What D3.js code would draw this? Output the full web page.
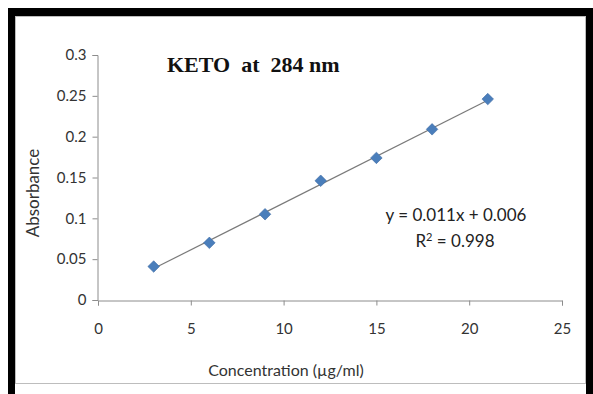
<!doctype html>
<html lang="en">
<head>
<meta charset="utf-8">
<title>KETO at 284 nm</title>
<script src="https://cdn.jsdelivr.net/npm/d3@7"></script>
<style>
    body { margin: 0; background: #fff; }
    svg { display: block; }
</style>
</head>
<body>
<svg width="593" height="394" id="chart"></svg>
<script>
    // calibration data
    const concentration = [3, 6, 9, 12, 15, 18, 21];
    const absorbance = [0.041, 0.070, 0.105, 0.146, 0.174, 0.209, 0.246];
    const xTicks = [0, 5, 10, 15, 20, 25];
    const yTicks = [0, 0.05, 0.1, 0.15, 0.2, 0.25, 0.3];
    const equationText = "y = 0.011x + 0.006";
    const r2Text = "0.998";

    const svg = d3.select("#chart");

    // black frame on top/left/right, white card inside
    svg.append("rect").attr("x", 8).attr("y", 8).attr("width", 585).attr("height", 386).attr("fill", "#000");
    svg.append("rect").attr("x", 15).attr("y", 16).attr("width", 571).attr("height", 378).attr("fill", "#fff");
    svg.append("rect").attr("x", 15.5).attr("y", 16.5).attr("width", 570).attr("height", 367)
        .attr("fill", "none").attr("stroke", "#bdbdbd").attr("stroke-width", 1);

    const x = d3.scaleLinear().domain([0, 25]).range([98, 562]);
    const y = d3.scaleLinear().domain([0, 0.3]).range([300, 55]);

    const tickFont = "Lato, 'Open Sans', sans-serif";

    const xAxis = svg.append("g")
        .attr("transform", "translate(0,300.5)")
        .call(d3.axisBottom(x).tickValues(xTicks).tickSize(5).tickPadding(18).tickFormat(d3.format("d")));
    const yAxis = svg.append("g")
        .attr("transform", "translate(97.5,0)")
        .call(d3.axisLeft(y).tickValues(yTicks).tickSize(5).tickPadding(6).tickFormat(d => d === 0 ? "0" : String(d)));

    [xAxis, yAxis].forEach(a => {
        a.select(".domain").attr("stroke", "#8c8c8c");
        a.selectAll(".tick line").attr("stroke", "#8c8c8c");
        a.selectAll(".tick text").attr("fill", "#333").style("font-family", tickFont).style("font-size", "15px");
    });

    // least squares trendline
    const n = concentration.length;
    const mx = d3.mean(concentration), my = d3.mean(absorbance);
    let sxy = 0, sxx = 0;
    for (let i = 0; i < n; i++) {
        sxy += (concentration[i] - mx) * (absorbance[i] - my);
        sxx += (concentration[i] - mx) * (concentration[i] - mx);
    }
    const slope = sxy / sxx, icept = my - slope * mx;
    const x0 = d3.min(concentration), x1 = d3.max(concentration);

    svg.append("line")
        .attr("x1", x(x0)).attr("y1", y(slope * x0 + icept))
        .attr("x2", x(x1)).attr("y2", y(slope * x1 + icept))
        .attr("stroke", "#7a7a7a").attr("stroke-width", 1.2);

    const diamond = d3.symbol().type(d3.symbolDiamond2).size(85);
    svg.append("g").selectAll("path")
        .data(concentration.map((c, i) => [c, absorbance[i]]))
        .enter().append("path")
        .attr("d", diamond)
        .attr("transform", d => "translate(" + x(d[0]) + "," + y(d[1]) + ")")
        .attr("fill", "#4a7ebb")
        .attr("stroke", "#3c6aa3").attr("stroke-width", 0.6);

    // title
    svg.append("text")
        .attr("x", 167).attr("y", 72)
        .style("font-family", "'Liberation Serif', 'Times New Roman', serif")
        .style("font-weight", "bold").style("font-size", "22px")
        .attr("fill", "#111")
        .attr("xml:space", "preserve")
        .text("KETO  at  284 nm");

    // equation
    svg.append("text")
        .attr("x", 456).attr("y", 221)
        .attr("text-anchor", "middle")
        .style("font-family", tickFont).style("font-size", "17px").attr("fill", "#222")
        .text(equationText);
    const r2 = svg.append("text")
        .attr("x", 455).attr("y", 247)
        .attr("text-anchor", "middle")
        .style("font-family", tickFont).style("font-size", "17px").attr("fill", "#222");
    r2.append("tspan").text("R");
    r2.append("tspan").attr("dy", -6).style("font-size", "11px").text("2");
    r2.append("tspan").attr("dy", 6).text(" = " + r2Text);

    // axis titles
    svg.append("text")
        .attr("x", 286).attr("y", 376)
        .attr("text-anchor", "middle")
        .style("font-family", tickFont).style("font-size", "16px").attr("fill", "#333")
        .text("Concentration (µg/ml)");
    svg.append("text")
        .attr("transform", "translate(39,193) rotate(-90)")
        .attr("text-anchor", "middle")
        .style("font-family", tickFont).style("font-size", "17px").attr("fill", "#333")
        .text("Absorbance");
</script>
</body>
</html>
